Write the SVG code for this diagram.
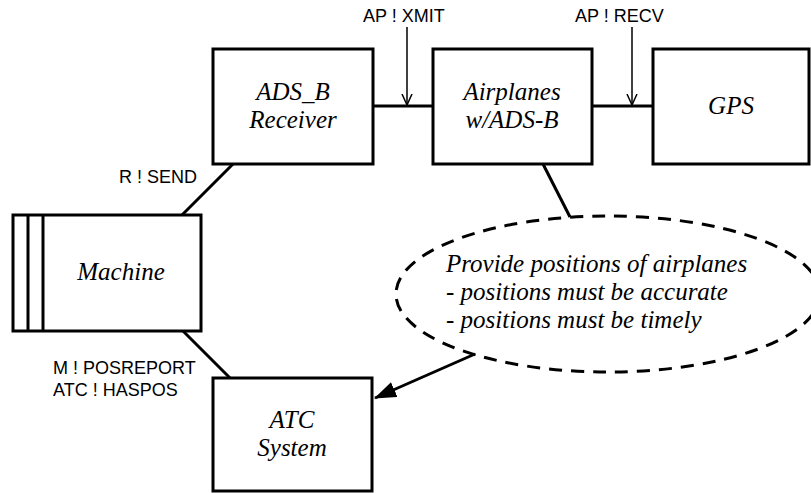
<svg xmlns="http://www.w3.org/2000/svg" width="811" height="493" viewBox="0 0 811 493">
<defs>
<style>
.box{fill:#fff;stroke:#000;stroke-width:3}
.ln{fill:none;stroke:#000;stroke-width:3}
.thin{fill:none;stroke:#000;stroke-width:1.5}
.it{font-family:"Liberation Serif","Times New Roman",serif;font-style:italic;font-size:25px;fill:#000}
.lbl{font-family:"Liberation Sans",Arial,sans-serif;font-size:18px;fill:#000}
</style>
<marker id="open" viewBox="0 0 12 12" refX="11" refY="6" markerWidth="12" markerHeight="12" markerUnits="userSpaceOnUse" orient="auto">
<path d="M0,1 L11,6 L0,11" fill="none" stroke="#000" stroke-width="1.5"/>
</marker>
<marker id="solid" viewBox="0 0 22 16" refX="21" refY="8" markerWidth="22" markerHeight="16" markerUnits="userSpaceOnUse" orient="auto">
<path d="M0,0 L22,8 L0,16 Z" fill="#000"/>
</marker>
</defs>
<rect width="811" height="493" fill="#fff"/>
<g id="connectors">
<line class="ln" x1="373" y1="106" x2="433" y2="106"/>
<line class="ln" x1="592" y1="106" x2="653" y2="106"/>
<line class="ln" x1="233" y1="164" x2="182" y2="215"/>
<line class="ln" x1="183" y1="331" x2="230" y2="378"/>
<line class="ln" x1="543" y1="164" x2="570" y2="217"/>
<line class="ln" x1="475" y1="354" x2="375" y2="398" marker-end="url(#solid)"/>
<line class="thin" x1="407" y1="27" x2="407" y2="105" marker-end="url(#open)"/>
<line class="thin" x1="632" y1="27" x2="632" y2="105" marker-end="url(#open)"/>
<text class="lbl" x="363" y="22">AP ! XMIT</text>
<text class="lbl" x="575" y="22">AP ! RECV</text>
<text class="lbl" x="197" y="183" text-anchor="end">R ! SEND</text>
<text class="lbl" x="53" y="374">M ! POSREPORT</text>
<text class="lbl" x="53" y="396">ATC ! HASPOS</text>
</g>
<g id="adsb">
<rect class="box" x="213" y="49" width="160" height="115"/>
<text class="it" x="293" y="100" text-anchor="middle">ADS_B</text>
<text class="it" x="293" y="128" text-anchor="middle">Receiver</text>
</g>
<g id="airplanes">
<rect class="box" x="433" y="49" width="159" height="115"/>
<text class="it" x="512" y="100" text-anchor="middle">Airplanes</text>
<text class="it" x="512" y="128" text-anchor="middle">w/ADS-B</text>
</g>
<g id="gps">
<rect class="box" x="653" y="49" width="156" height="115"/>
<text class="it" x="731" y="114" text-anchor="middle">GPS</text>
</g>
<g id="machine">
<rect class="box" x="13" y="215" width="188" height="116"/>
<line class="ln" x1="28" y1="215" x2="28" y2="331"/>
<line class="ln" x1="43" y1="215" x2="43" y2="331"/>
<text class="it" x="121" y="280" text-anchor="middle">Machine</text>
</g>
<g id="atc">
<rect class="box" x="213" y="378" width="159" height="113"/>
<text class="it" x="292" y="428" text-anchor="middle">ATC</text>
<text class="it" x="292" y="456" text-anchor="middle">System</text>
</g>
<g id="goal">
<ellipse cx="608" cy="294" rx="212" ry="78" fill="none" stroke="#000" stroke-width="3" stroke-dasharray="13,9"/>
<text class="it" x="446" y="272">Provide positions of airplanes</text>
<text class="it" x="446" y="300">- positions must be accurate</text>
<text class="it" x="446" y="328">- positions must be timely</text>
</g>
</svg>
